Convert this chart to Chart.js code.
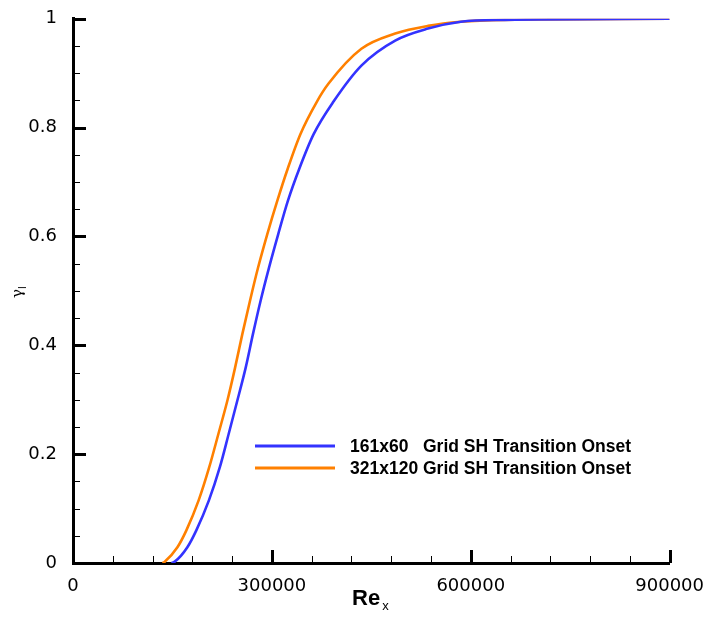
<!DOCTYPE html>
<html lang="en">
<head>
    <meta charset="UTF-8">
    <title>Intermittency vs Re_x</title>
    <script src="https://cdn.jsdelivr.net/npm/chart.js"></script>
    <style>
        html, body { margin: 0; padding: 0; background: #fff; }
        #wrap { width: 709px; height: 618px; }
    </style>
</head>
<body>
    <div id="wrap">
        <canvas id="gammaChart" width="709" height="618"></canvas>
    </div>
    <script>
        // Re_x / gamma samples for the two grids
        var reCoarse = [148500, 153000, 172500, 186000, 205000, 221500, 235000, 248000, 260500, 271500, 283000, 295500, 309500, 324000, 341500, 363000, 393000, 435000, 486000, 535500, 585000, 651000, 900000];
        var gammaCoarse = [0, 0.002, 0.029, 0.060, 0.115, 0.176, 0.238, 0.299, 0.359, 0.421, 0.482, 0.542, 0.604, 0.665, 0.725, 0.788, 0.848, 0.914, 0.960, 0.982, 0.9945, 0.998, 1];

        var reFine = [135000, 138000, 157500, 171000, 189500, 205500, 219500, 233000, 244500, 255500, 267000, 279000, 293000, 308000, 324000, 343000, 368000, 385500, 435000, 486000, 535500, 585000, 651000, 900000];
        var gammaFine = [0, 0.002, 0.029, 0.060, 0.115, 0.176, 0.238, 0.299, 0.359, 0.421, 0.482, 0.542, 0.604, 0.665, 0.725, 0.788, 0.848, 0.881, 0.945, 0.973, 0.987, 0.9945, 0.998, 1];

        var seriesLabels = ['161x60   Grid SH Transition Onset', '321x120 Grid SH Transition Onset'];
        var seriesColors = ['rgb(51, 51, 255)', 'rgb(255, 128, 0)'];

        function toPoints(xs, ys) {
            return xs.map(function (x, i) { return { x: x, y: ys[i] }; });
        }

        var fontFamily = '"Liberation Sans", Arial, sans-serif';
        var tickFamily = '"DejaVu Sans", sans-serif';

        // inward tick marks, long on labelled values, short in between
        var inwardTicks = {
            id: 'inwardTicks',
            afterDraw: function (chart) {
                var ctx = chart.ctx;
                var area = chart.chartArea;
                var xs = chart.scales.x, ys = chart.scales.y;
                ctx.save();
                ctx.strokeStyle = '#000';
                xs.ticks.forEach(function (t) {
                    var major = Math.abs(t.value % 300000) < 1;
                    var px = Math.round(xs.getPixelForValue(t.value)) + 0.5;
                    ctx.lineWidth = major ? 3 : 1;
                    ctx.beginPath();
                    ctx.moveTo(px, area.bottom);
                    ctx.lineTo(px, area.bottom - (major ? 13 : 7));
                    ctx.stroke();
                });
                ys.ticks.forEach(function (t) {
                    var v = t.value * 5;
                    var major = Math.abs(v - Math.round(v)) < 1e-6;
                    var py = Math.round(ys.getPixelForValue(t.value)) + 0.5;
                    ctx.lineWidth = major ? 3 : 1;
                    ctx.beginPath();
                    ctx.moveTo(area.left, py);
                    ctx.lineTo(area.left + (major ? 13 : 7), py);
                    ctx.stroke();
                });
                ctx.restore();
            }
        };

        // axis titles with subscripts and the inset legend
        var annotations = {
            id: 'annotations',
            afterDraw: function (chart) {
                var ctx = chart.ctx;
                var area = chart.chartArea;
                ctx.save();
                ctx.fillStyle = '#000';
                ctx.textBaseline = 'alphabetic';

                // x title: Re_x
                var cx = (area.left + area.right) / 2;
                ctx.font = 'bold 22px ' + fontFamily;
                var wRe = ctx.measureText('Re').width;
                ctx.font = '13px ' + fontFamily;
                var wSub = ctx.measureText('x').width;
                var startX = cx - (wRe + wSub) / 2 - 2;
                ctx.font = 'bold 22px ' + fontFamily;
                ctx.textAlign = 'left';
                ctx.fillText('Re', startX, 605);
                ctx.font = '13px ' + fontFamily;
                ctx.fillText('x', startX + wRe + 2, 610);

                // y title: gamma_I, rotated
                ctx.translate(22, 298);
                ctx.rotate(-Math.PI / 2);
                ctx.font = '15px "DejaVu Serif", serif';
                ctx.fillText('\u03b3', 0, 0);
                var wg = ctx.measureText('\u03b3').width;
                ctx.font = '10px ' + fontFamily;
                ctx.fillText('I', wg, 4);
                ctx.setTransform(1, 0, 0, 1, 0, 0);

                // legend
                var rows = [446, 468];
                ctx.font = 'bold 17.5px ' + fontFamily;
                ctx.textBaseline = 'middle';
                rows.forEach(function (y, i) {
                    ctx.strokeStyle = seriesColors[i];
                    ctx.lineWidth = 3;
                    ctx.beginPath();
                    ctx.moveTo(255, y);
                    ctx.lineTo(335, y);
                    ctx.stroke();
                    ctx.fillStyle = '#000';
                    ctx.fillText(seriesLabels[i], 350, y + 1);
                });
                ctx.restore();
            }
        };

        var ctxGamma = document.getElementById('gammaChart').getContext('2d');

        var gammaChart = new Chart(ctxGamma, {
            type: 'line',
            data: {
                datasets: [{
                    label: seriesLabels[0],
                    data: toPoints(reCoarse, gammaCoarse),
                    borderColor: seriesColors[0],
                    borderWidth: 2.6,
                    pointRadius: 0,
                    fill: false,
                    cubicInterpolationMode: 'monotone'
                }, {
                    label: seriesLabels[1],
                    data: toPoints(reFine, gammaFine),
                    borderColor: seriesColors[1],
                    borderWidth: 2.6,
                    pointRadius: 0,
                    fill: false,
                    cubicInterpolationMode: 'monotone'
                }]
            },
            options: {
                responsive: false,
                animation: false,
                layout: { padding: { top: 17, right: 36, left: 0, bottom: 0 } },
                plugins: {
                    legend: { display: false },
                    tooltip: { enabled: false }
                },
                scales: {
                    x: {
                        type: 'linear',
                        min: 0,
                        max: 900000,
                        grid: { display: false },
                        border: { display: true, color: '#000', width: 3 },
                        ticks: {
                            stepSize: 60000,
                            autoSkip: false,
                            maxRotation: 0,
                            padding: 5,
                            color: '#000',
                            font: { family: tickFamily, size: 18 },
                            callback: function (v) {
                                return v % 300000 === 0 ? String(v) : '';
                            }
                        },
                        afterFit: function (scale) { scale.height = 55; }
                    },
                    y: {
                        min: 0,
                        max: 1,
                        grid: { display: false },
                        border: { display: true, color: '#000', width: 3 },
                        ticks: {
                            stepSize: 0.05,
                            autoSkip: false,
                            padding: 8,
                            color: '#000',
                            font: { family: tickFamily, size: 18 },
                            callback: function (v) {
                                var k = v * 5;
                                if (Math.abs(k - Math.round(k)) > 1e-6) return '';
                                return String(Math.round(k) / 5);
                            }
                        },
                        afterFit: function (scale) { scale.width = 73; }
                    }
                }
            },
            plugins: [inwardTicks, annotations]
        });
    </script>
</body>
</html>
